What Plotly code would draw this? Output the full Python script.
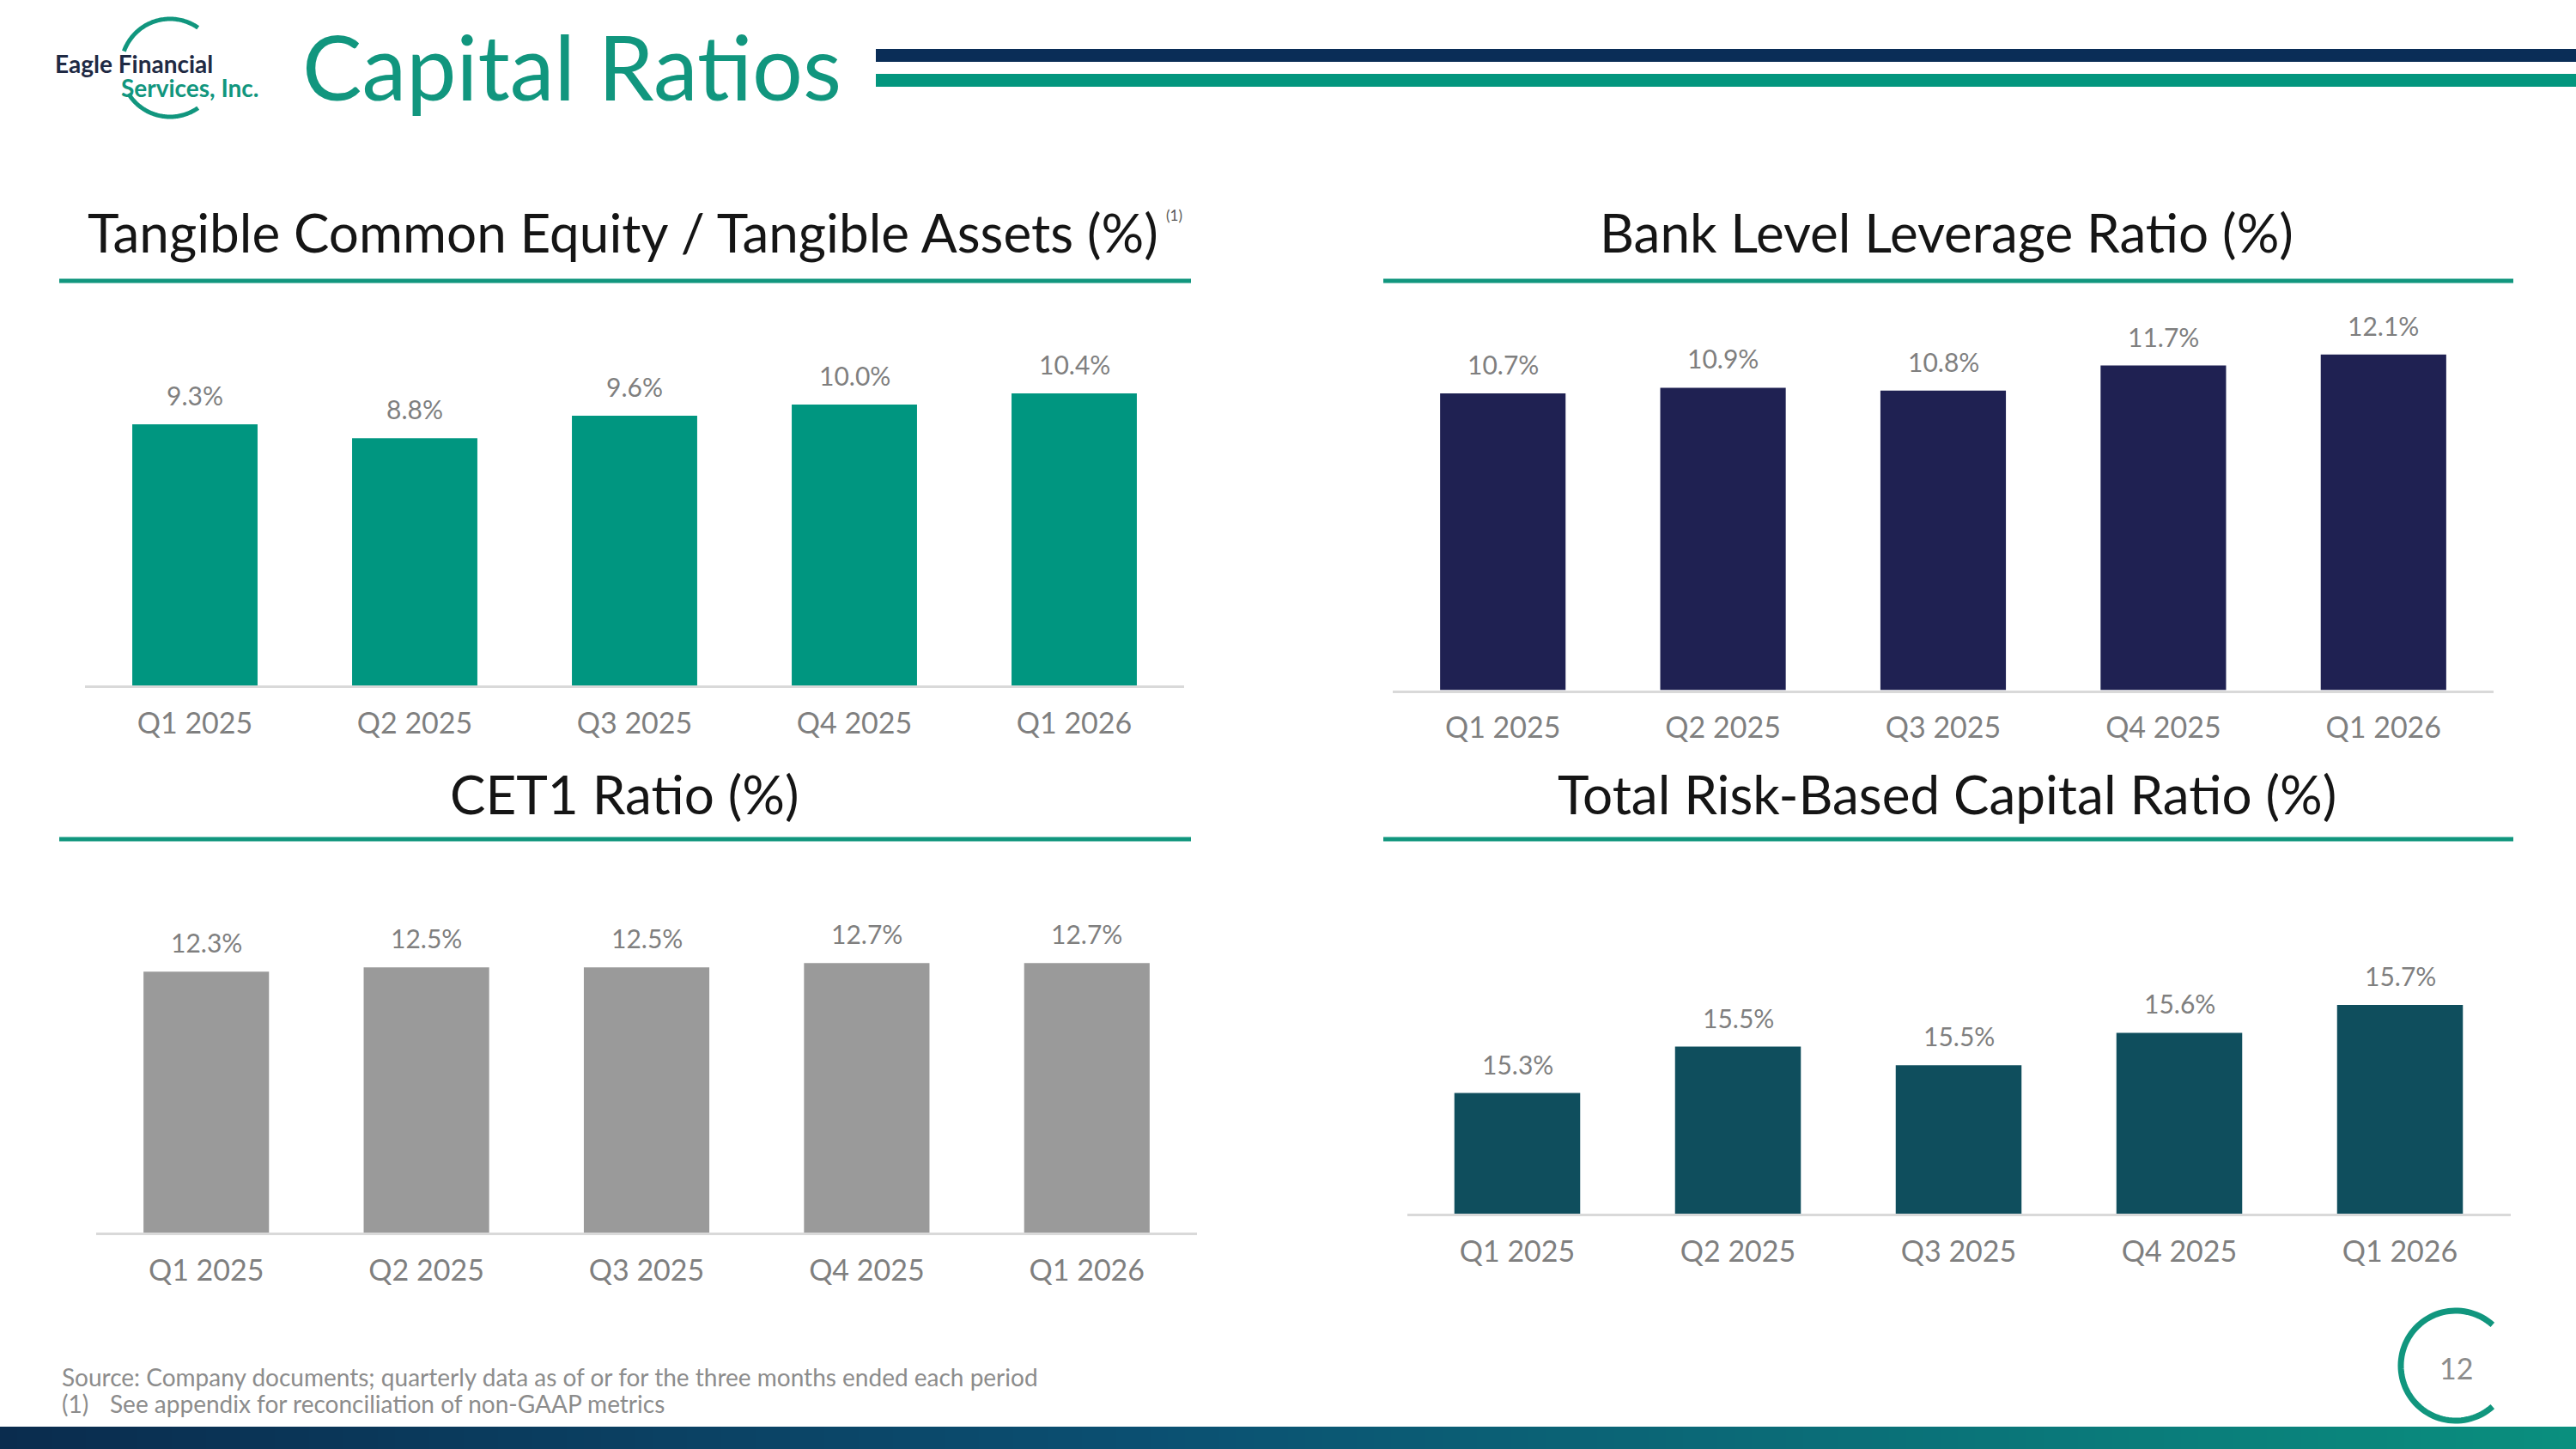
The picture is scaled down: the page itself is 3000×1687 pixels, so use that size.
import math
import plotly.graph_objects as go

W, H = 3000, 1687

# ---------------- data ----------------
quarters = ["Q1 2025", "Q2 2025", "Q3 2025", "Q4 2025", "Q1 2026"]
tce_ratio = [9.3, 8.8, 9.6, 10.0, 10.4]
leverage_ratio = [10.7, 10.9, 10.8, 11.7, 12.1]
cet1_ratio = [12.3, 12.5, 12.5, 12.7, 12.7]
total_rbc_ratio = [15.34, 15.54, 15.46, 15.60, 15.72]

chart_titles = [
    "Tangible Common Equity / Tangible Assets (%)",
    "Bank Level Leverage Ratio (%)",
    "CET1 Ratio (%)",
    "Total Risk-Based Capital Ratio (%)",
]
footnotes = [
    "Source: Company documents; quarterly data as of or for the three months ended each period",
    "See appendix for reconciliation of non-GAAP metrics",
]

# ---------------- styles ----------------
TEAL = "#11967e"
NAVY_BAR = "#0a2d57"
C_TCE = "#009680"
C_LEV = "#1f2152"
C_CET = "#9a9a9a"
C_TRBC = "#0f4e5d"
GRAY_TXT = "#7f7f7f"
AXIS_C = "#d9d9d9"
FONT = "Lato, 'Open Sans', sans-serif"


def fx(x):
    return x / W


def fy(y):
    return 1 - y / H


# panel geometry in pixels: x-domain, baseline y, top y, y-range
panels = [
    dict(vals=tce_ratio, color=C_TCE, x0=99, x1=1379, base=798, top=380, rmin=0.0, ppu=32.7),
    dict(vals=leverage_ratio, color=C_LEV, x0=1622, x1=2904, base=803.5, top=380, rmin=0.0, ppu=32.3),
    dict(vals=cet1_ratio, color=C_CET, x0=112, x1=1394, base=1435, top=1030, rmin=0.0, ppu=24.7),
    dict(vals=total_rbc_ratio, color=C_TRBC, x0=1638.5, x1=2923.5, base=1413, top=1030, rmin=14.82, ppu=270.0),
]

fig = go.Figure()
annotations = []
layout_axes = {}

for i, p in enumerate(panels):
    n = "" if i == 0 else str(i + 1)
    xa, ya = "x" + n, "y" + n
    fig.add_trace(go.Bar(
        x=quarters, y=p["vals"], xaxis=xa, yaxis=ya,
        marker=dict(color=p["color"], line=dict(width=0)),
        hoverinfo="skip", showlegend=False,
    ))
    rmax = p["rmin"] + (p["base"] - p["top"]) / p["ppu"]
    layout_axes["xaxis" + n] = dict(
        domain=[fx(p["x0"]), fx(p["x1"])], anchor=ya, type="category",
        range=[-0.5, 4.5], showline=True, linecolor=AXIS_C, linewidth=3,
        ticks="outside", ticklen=12, tickcolor="rgba(0,0,0,0)",
        tickfont=dict(family=FONT, size=34, color=GRAY_TXT),
        showgrid=False, zeroline=False, fixedrange=True,
    )
    layout_axes["yaxis" + n] = dict(
        domain=[fy(p["base"]), fy(p["top"])], anchor=xa,
        range=[p["rmin"], rmax], visible=False, showgrid=False,
        zeroline=False, fixedrange=True,
    )
    for q, v in zip(quarters, p["vals"]):
        annotations.append(dict(
            x=q, y=v, xref=xa, yref=ya, text=f"{v:.1f}%", showarrow=False,
            yanchor="bottom", xanchor="center", yshift=14,
            font=dict(family=FONT, size=30, color=GRAY_TXT),
        ))

# chart titles
title_pos = [(725, 270), (2267, 270), (727, 924), (2267, 924)]
for t, (cx, cy) in zip(chart_titles, title_pos):
    annotations.append(dict(
        x=fx(cx), y=fy(cy), xref="paper", yref="paper", text=t, showarrow=False,
        xanchor="center", yanchor="middle",
        font=dict(family=FONT, size=62, color="#151515"),
    ))
annotations.append(dict(
    x=fx(1356), y=fy(250), xref="paper", yref="paper", text="(1)", showarrow=False,
    xanchor="left", yanchor="middle", font=dict(family=FONT, size=17, color="#555555"),
))

# header text
annotations += [
    dict(x=fx(350), y=fy(77), xref="paper", yref="paper", text="Capital Ratios",
         showarrow=False, xanchor="left", yanchor="middle",
         font=dict(family=FONT, size=104, color=TEAL)),
    dict(x=fx(62), y=fy(74), xref="paper", yref="paper", text="<b>Eagle Financial</b>",
         showarrow=False, xanchor="left", yanchor="middle",
         font=dict(family=FONT, size=28, color="#1f2a44")),
    dict(x=fx(139), y=fy(102), xref="paper", yref="paper", text="<b>Services, Inc.</b>",
         showarrow=False, xanchor="left", yanchor="middle",
         font=dict(family=FONT, size=28, color=TEAL)),
]

# footnotes
annotations += [
    dict(x=fx(70), y=fy(1603), xref="paper", yref="paper", text=footnotes[0],
         showarrow=False, xanchor="left", yanchor="middle",
         font=dict(family=FONT, size=28, color="#8c8c8c")),
    dict(x=fx(70), y=fy(1634), xref="paper", yref="paper", text="(1)",
         showarrow=False, xanchor="left", yanchor="middle",
         font=dict(family=FONT, size=28, color="#8c8c8c")),
    dict(x=fx(126), y=fy(1634), xref="paper", yref="paper", text=footnotes[1],
         showarrow=False, xanchor="left", yanchor="middle",
         font=dict(family=FONT, size=28, color="#8c8c8c")),
    dict(x=fx(2860), y=fy(1592), xref="paper", yref="paper", text="12",
         showarrow=False, xanchor="center", yanchor="middle",
         font=dict(family=FONT, size=34, color="#8c8c8c")),
]

shapes = []


def rect(x0, y0, x1, y1, color):
    shapes.append(dict(type="rect", xref="paper", yref="paper",
                       x0=fx(x0), x1=fx(x1), y0=fy(y1), y1=fy(y0),
                       fillcolor=color, line=dict(width=0), layer="below"))


def arc(cx, cy, r, a0, a1, color, width):
    pts = []
    steps = 80
    for k in range(steps + 1):
        a = math.radians(a0 + (a1 - a0) * k / steps)
        px = cx + r * math.cos(a)
        py = cy - r * math.sin(a)
        pts.append(f"{fx(px):.6f},{fy(py):.6f}")
    path = "M " + " L ".join(pts)
    shapes.append(dict(type="path", xref="paper", yref="paper", path=path,
                       line=dict(color=color, width=width), layer="above"))


# header bars
rect(1020, 57, 3000, 72, NAVY_BAR)
rect(1020, 86, 3000, 101, "#03967e")

# title underlines
for (x0, x1, y) in [(69, 1387, 327), (1611, 2927, 327), (69, 1387, 977), (1611, 2927, 977)]:
    shapes.append(dict(type="line", xref="paper", yref="paper",
                       x0=fx(x0), x1=fx(x1), y0=fy(y), y1=fy(y),
                       line=dict(color=TEAL, width=5)))

# logo arc (two pieces around text)
arc(198, 79, 57, 55, 160, TEAL, 5)
arc(198, 79, 57, 212, 305, TEAL, 5)

# page-number arc
arc(2860, 1590, 64, 48, 312, TEAL, 7)

# bottom gradient bar
stops = [(0.0, (10, 44, 78)), (0.45, (11, 80, 114)), (1.0, (10, 143, 126))]


def grad(t):
    for (t0, c0), (t1, c1) in zip(stops[:-1], stops[1:]):
        if t0 <= t <= t1:
            u = (t - t0) / (t1 - t0)
            return "rgb(%d,%d,%d)" % tuple(round(a + (b - a) * u) for a, b in zip(c0, c1))
    return "rgb(%d,%d,%d)" % stops[-1][1]


strip = 20
for k in range(0, W, strip):
    rect(k, 1661, min(W, k + strip + 1), H, grad((k + strip / 2) / W))

fig.update_layout(
    width=W, height=H, margin=dict(l=0, r=0, t=0, b=0),
    paper_bgcolor="white", plot_bgcolor="rgba(0,0,0,0)",
    bargap=0.43, showlegend=False,
    font=dict(family=FONT),
    annotations=annotations, shapes=shapes,
    **layout_axes,
)

fig.write_html("out.html")
